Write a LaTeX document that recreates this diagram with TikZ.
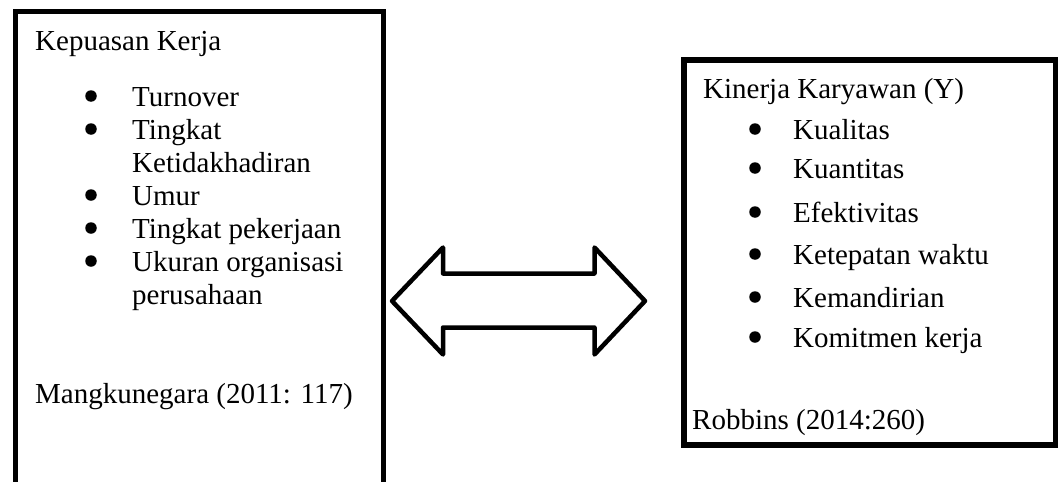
\documentclass[tikz,border=0pt]{standalone}
\usepackage{fontspec}
\setmainfont{Liberation Serif}
\begin{document}
\begin{tikzpicture}[x=1pt,y=-1pt,
  frame/.style={draw=black, line width=5.5pt, line join=miter, anchor=north west, inner sep=0pt},
  txt/.style={anchor=base west, inner sep=0pt, font=\fontsize{29}{33}\selectfont},
  dot/.style={circle, fill=black, inner sep=0pt, minimum size=11.5pt, yshift=10pt},
  bigarrow/.style={draw=black, line width=4.5pt, line join=round, fill=white}]
\useasboundingbox (0,0) rectangle (1058,482);
\clip (0,0) rectangle (1058,482);

% the two boxes
\node[frame, minimum width=368pt, minimum height=520pt] (kepuasan) at (12.5,8.5) {};
\node[frame, line width=6pt, minimum width=372.5pt, minimum height=385pt] (kinerja) at (680.5,57) {};

% double block arrow between the boxes
\coordinate (west tip) at (392,301);
\coordinate (east tip) at (645,301);
\draw[bigarrow] (west tip) -- (443,247.5) -- (443,273.5) -- (594.5,273.5) -- (594.5,247.5)
  -- (east tip) -- (594.5,354.5) -- (594.5,327.5) -- (443,327.5) -- (443,354.5) -- cycle;

% left box: Kepuasan Kerja
\node[txt] (l0) at (35,50) {Kepuasan Kerja};
\node[dot] (lb1) at (91,106) {};
\node[txt] (l1) at (132,106) {Turnover};
\node[dot] (lb2) at (91,139) {};
\node[txt] (l2) at (132,139) {Tingkat};
\node[txt] (l2b) at (132,172) {Ketidakhadiran};
\node[dot] (lb3) at (91,205) {};
\node[txt] (l3) at (132,205) {Umur};
\node[dot] (lb4) at (91,238) {};
\node[txt] (l4) at (132,238) {Tingkat pekerjaan};
\node[dot] (lb5) at (91,271) {};
\node[txt] (l5) at (132,271) {Ukuran organisasi};
\node[txt] (l5b) at (132,304) {perusahaan};
\node[txt] (lsrc) at (35,403) {Mangkunegara (2011: 117)};

% right box: Kinerja Karyawan
\node[txt] (r0) at (703,98) {Kinerja Karyawan (Y)};
\node[dot] (rb1) at (755,139) {};
\node[txt] (r1) at (793,139) {Kualitas};
\node[dot] (rb2) at (755,178) {};
\node[txt] (r2) at (793,178) {Kuantitas};
\node[dot] (rb3) at (755,222) {};
\node[txt] (r3) at (793,222) {Efektivitas};
\node[dot] (rb4) at (755,264) {};
\node[txt] (r4) at (793,264) {Ketepatan waktu};
\node[dot] (rb5) at (755,307) {};
\node[txt] (r5) at (793,307) {Kemandirian};
\node[dot] (rb6) at (755,347) {};
\node[txt] (r6) at (793,347) {Komitmen kerja};
\node[txt] (rsrc) at (692,429) {Robbins (2014:260)};
\end{tikzpicture}
\end{document}
